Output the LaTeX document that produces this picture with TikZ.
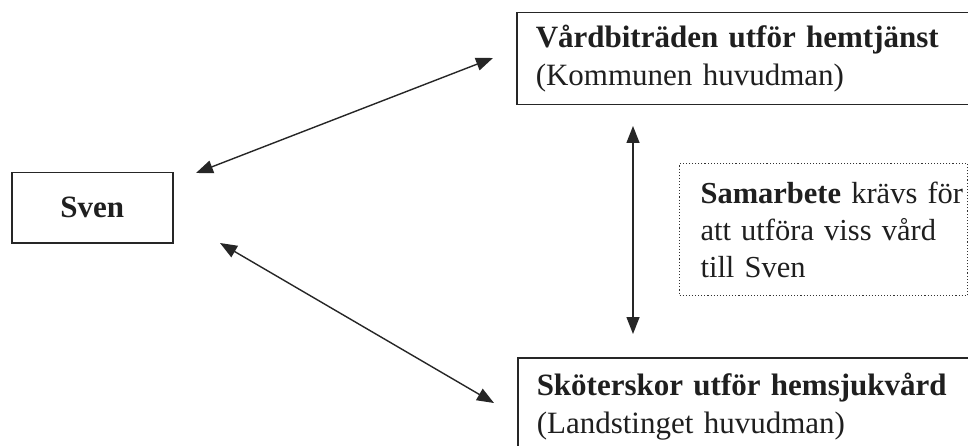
\documentclass[tikz,border=0pt]{standalone}
\usepackage{fontspec}
\setmainfont{Liberation Serif}
\usetikzlibrary{arrows.meta}
\begin{document}
\begin{tikzpicture}[x=1pt,y=-1pt,
  box/.style={draw=black!85,line width=1.5pt,anchor=north west,align=left,inner xsep=19pt,inner ysep=0pt,font=\fontsize{31}{38}\selectfont,text=black!88},
  dotbox/.style={draw=black!80,dotted,line width=1.1pt,anchor=north west,align=left,inner xsep=0pt,inner ysep=0pt,font=\fontsize{30.5}{37}\selectfont,text=black!88},
  link/.style={draw=black!85,line width=1.4pt,{Triangle[length=17pt,width=13pt]}-{Triangle[length=17pt,width=13pt]}}]
\useasboundingbox (0,0) rectangle (968,446);
\clip (0,0) rectangle (968,446);
\fill[white] (0,0) rectangle (968,446);
\node[box,minimum width=470pt,minimum height=92pt,text width=432pt] (top) at (516,12)
  {\textbf{Vårdbiträden utför hemtjänst}\\(Kommunen huvudman)};
\node[box,minimum width=161pt,minimum height=70pt,align=center,inner xsep=0pt] (sven) at (11,172)
  {\textbf{Sven}};
\node[box,minimum width=470pt,minimum height=98pt,text width=432pt] (bot) at (517,357)
  {\textbf{Sköterskor utför hemsjukvård}\\(Landstinget huvudman)};
\node[dotbox,minimum width=288pt,minimum height=132pt,text width=288pt] (samb) at (679,163)
  {\leftskip=21pt \textbf{Samarbete} krävs för\\att utföra viss vård\\till Sven\par};
\coordinate (a1) at (196,173);
\coordinate (a2) at (493,58);
\coordinate (b1) at (220,243);
\coordinate (b2) at (494,403);
\coordinate (c1) at (633,126);
\coordinate (c2) at (633,334);
\draw[link] (a1) -- (a2);
\draw[link] (b1) -- (b2);
\draw[link] (c1) -- (c2);
\end{tikzpicture}
\end{document}
